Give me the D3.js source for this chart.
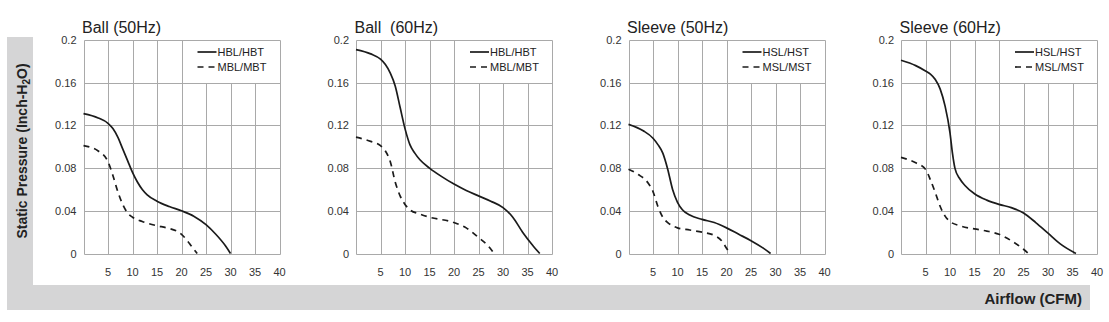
<!DOCTYPE html>
<html>
<head>
<meta charset="utf-8">
<script src="https://cdn.jsdelivr.net/npm/d3@7"></script>
<style>
  body { margin: 0; background: #fff; }
  svg { display: block; font-family: "Liberation Sans", Arial, sans-serif; }
</style>
</head>
<body>
<svg id="chart"></svg>
<script>
// chart values: [airflow CFM, static pressure inch-H2O]
const ball50High = [[0,0.131],[3,0.127],[5,0.122],[6,0.117],[7,0.109],[8,0.098],[9,0.087],[10,0.076],[11,0.067],[12,0.060],[13,0.055],[15,0.049],[17.5,0.044],[20,0.040],[22.5,0.035],[25,0.027],[27,0.018],[29,0.007],[30,0]];
const ball50Mid = [[0,0.101],[3,0.096],[5,0.086],[6,0.073],[7,0.058],[8,0.046],[9,0.038],[10,0.034],[12,0.030],[15,0.026],[17,0.024],[19,0.021],[20,0.018],[21,0.013],[22,0.007],[23.2,0]];
const ball60High = [[0,0.191],[3,0.187],[5,0.182],[6,0.177],[7,0.169],[8,0.157],[9,0.137],[10,0.117],[11,0.102],[12,0.094],[13,0.088],[15,0.080],[17.5,0.072],[20,0.065],[22.5,0.059],[25,0.054],[27.5,0.049],[30,0.043],[32,0.034],[34,0.020],[36,0.008],[37.5,0]];
const ball60Mid = [[0,0.109],[3,0.105],[5,0.101],[6,0.096],[7,0.086],[8,0.067],[9,0.054],[10,0.046],[11,0.041],[13,0.037],[15,0.034],[20,0.029],[22.5,0.024],[25,0.015],[27,0.007],[28.2,0]];
const sleeve50High = [[0,0.121],[3,0.115],[5,0.108],[6,0.102],[7,0.094],[8,0.079],[9,0.060],[10,0.048],[11,0.041],[12.5,0.036],[15,0.032],[17.5,0.029],[20,0.024],[22.5,0.018],[25,0.012],[27.5,0.005],[29,0]];
const sleeve50Mid = [[0,0.079],[2,0.074],[4,0.066],[5,0.058],[6,0.044],[7,0.034],[8,0.029],[9,0.026],[10,0.024],[12.5,0.022],[15,0.020],[17.5,0.017],[19,0.012],[20,0.005],[20.7,0]];
const sleeve60High = [[0,0.181],[3,0.176],[5,0.171],[6,0.168],[7,0.163],[8,0.154],[9,0.138],[10,0.113],[10.5,0.094],[11,0.080],[12,0.070],[13,0.064],[15,0.056],[17.5,0.050],[20,0.046],[22.5,0.043],[25,0.038],[27.5,0.029],[30,0.019],[32.5,0.009],[35.7,0]];
const sleeve60Mid = [[0,0.090],[3,0.085],[5,0.079],[6,0.069],[7,0.057],[8,0.044],[9,0.035],[10,0.030],[12,0.026],[15,0.023],[17.5,0.021],[20,0.018],[22.5,0.012],[25,0.004],[26,0]];

const panelTitles = ["Ball (50Hz)", "Ball  (60Hz)", "Sleeve (50Hz)", "Sleeve (60Hz)"];
const highLabels = ["HBL/HBT", "HBL/HBT", "HSL/HST", "HSL/HST"];
const midLabels = ["MBL/MBT", "MBL/MBT", "MSL/MST", "MSL/MST"];
const highSeries = [ball50High, ball60High, sleeve50High, sleeve60High];
const midSeries = [ball50Mid, ball60Mid, sleeve50Mid, sleeve60Mid];

const xTicks = [5, 10, 15, 20, 25, 30, 35, 40];
const yTicks = [0, 0.04, 0.08, 0.12, 0.16, 0.2];
const yTickLabels = ["0", "0.04", "0.08", "0.12", "0.16", "0.2"];

const width = 1109, height = 322;
const svg = d3.select("#chart")
  .attr("width", width)
  .attr("height", height);

// grey L-shaped band behind the axis titles
svg.append("path")
  .attr("d", "M7,37 H33 V285 H1090 V310 H7 Z")
  .attr("fill", "#d5d5d6");

const yTitle = svg.append("text")
  .attr("transform", "translate(26.5,151) rotate(-90)")
  .attr("text-anchor", "middle")
  .attr("font-size", "14px")
  .attr("font-weight", "bold")
  .attr("fill", "#222");
yTitle.append("tspan").text("Static Pressure (Inch-H");
yTitle.append("tspan").attr("font-size", "10px").attr("dy", "3").text("2");
yTitle.append("tspan").attr("dy", "-3").text("O)");

svg.append("text")
  .attr("x", 1082)
  .attr("y", 303.5)
  .attr("text-anchor", "end")
  .attr("font-size", "15px")
  .attr("font-weight", "bold")
  .attr("fill", "#222")
  .text("Airflow (CFM)");

const panelLeft = [83.5, 356, 628.5, 901];
const panelWidth = 196;
const plotTop = 40, plotBottom = 253.5;

function drawPanel(i) {
  const x = d3.scaleLinear().domain([0, 40]).range([panelLeft[i], panelLeft[i] + panelWidth]);
  const y = d3.scaleLinear().domain([0, 0.2]).range([plotBottom, plotTop]);
  const g = svg.append("g");

  // gridlines; the legend box hides the verticals right of 20 CFM above 0.16
  g.selectAll(".vgrid")
    .data([0].concat(xTicks))
    .join("line")
      .attr("x1", d => Math.round(x(d)) + 0.5)
      .attr("x2", d => Math.round(x(d)) + 0.5)
      .attr("y1", d => (d > 20 && d < 40) ? Math.round(y(0.16)) + 0.5 : Math.round(y(0.2)) + 0.5)
      .attr("y2", Math.round(y(0)) + 0.5)
      .attr("stroke", "#a9a9a9");

  g.selectAll(".hgrid")
    .data(yTicks)
    .join("line")
      .attr("x1", Math.round(x(0)) + 0.5)
      .attr("x2", Math.round(x(40)) + 0.5)
      .attr("y1", d => Math.round(y(d)) + 0.5)
      .attr("y2", d => Math.round(y(d)) + 0.5)
      .attr("stroke", "#a9a9a9");

  // tick labels
  g.selectAll(".ylab")
    .data(yTicks)
    .join("text")
      .attr("x", x(0) - 7)
      .attr("y", d => y(d) + 4)
      .attr("text-anchor", "end")
      .attr("font-size", "11px")
      .attr("fill", "#333")
      .text((d, j) => yTickLabels[j]);

  g.selectAll(".xlab")
    .data(xTicks)
    .join("text")
      .attr("x", d => x(d))
      .attr("y", 276)
      .attr("text-anchor", "middle")
      .attr("font-size", "11px")
      .attr("fill", "#333")
      .text(d => d);

  g.append("text")
    .attr("x", x(0) - 1.5)
    .attr("y", 32.5)
    .attr("font-size", "16px")
    .attr("fill", "#222")
    .style("white-space", "pre")
    .text(panelTitles[i]);

  // curves
  const line = d3.line()
    .x(d => x(d[0]))
    .y(d => y(d[1]))
    .curve(d3.curveMonotoneX);

  g.append("path")
    .attr("d", line(highSeries[i]))
    .attr("fill", "none")
    .attr("stroke", "#1b1b1b")
    .attr("stroke-width", 1.7);

  g.append("path")
    .attr("d", line(midSeries[i]))
    .attr("fill", "none")
    .attr("stroke", "#1b1b1b")
    .attr("stroke-width", 1.7)
    .attr("stroke-dasharray", "6,5");

  // legend
  const lx = x(0) + 114;
  [[highLabels[i], null, 52], [midLabels[i], "6,5", 67]].forEach(([label, dash, ly]) => {
    g.append("line")
      .attr("x1", lx)
      .attr("x2", lx + 19)
      .attr("y1", ly)
      .attr("y2", ly)
      .attr("stroke", "#1b1b1b")
      .attr("stroke-width", 1.7)
      .attr("stroke-dasharray", dash);
    g.append("text")
      .attr("x", lx + 20)
      .attr("y", ly + 4)
      .attr("font-size", "11px")
      .attr("fill", "#222")
      .text(label);
  });
}

panelTitles.forEach((t, i) => drawPanel(i));
</script>
</body>
</html>
